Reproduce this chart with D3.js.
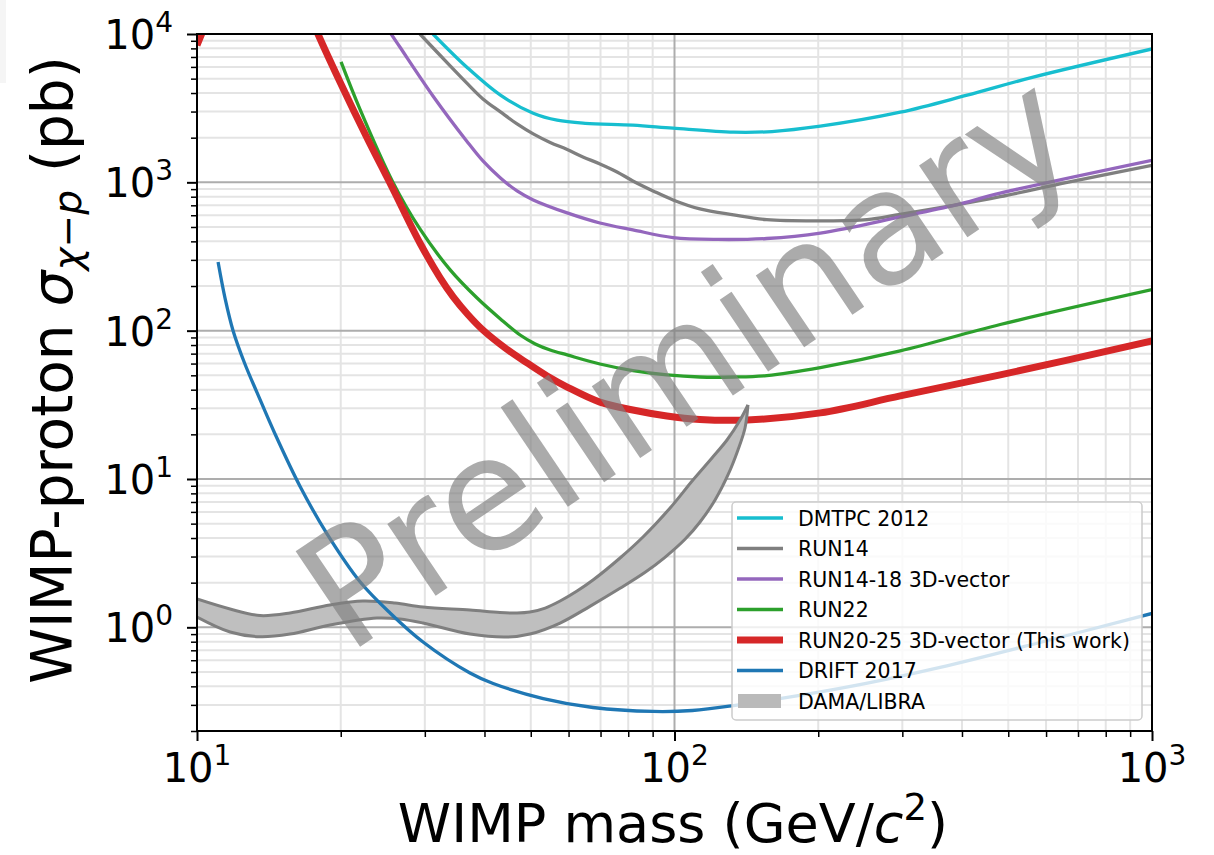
<!DOCTYPE html>
<html>
<head>
<meta charset="utf-8">
<script src="https://cdn.jsdelivr.net/npm/d3@7/dist/d3.min.js"></script>
<style>
  body { margin: 0; background: #fff; }
  text { font-family: "DejaVu Sans", sans-serif; }
</style>
</head>
<body>
<svg id="chart"></svg>
<script>
// values: [WIMP mass (GeV/c^2), cross section (pb)]
var dmtpc2012 = [[31.2, 10000], [36.7, 5990], [43.2, 3870], [50.6, 2925], [56.8, 2625], [65, 2500],
  [81.8, 2427], [99.3, 2316], [133, 2178], [160, 2200], [202, 2390], [297, 2970], [410, 3870],
  [564, 5120], [1000, 7925]];
var run14 = [[29.3, 10000], [33.9, 6095], [36.7, 4680], [39.7, 3651], [43.2, 2983], [46.8, 2476],
  [50.6, 2121], [54.9, 1858], [59.6, 1664], [64.3, 1484], [69.8, 1331], [75.8, 1175], [81.8, 1022],
  [90.2, 875], [99.3, 761], [113, 662], [133, 603], [156, 560], [202, 550], [253, 560],
  [297, 609], [389, 704], [481, 800], [664, 1000], [1000, 1303]];
var run14_18 = [[25.5, 10000], [26.6, 8170], [31.2, 3824], [36.7, 1901], [39.7, 1394], [43.2, 1071],
  [46.8, 875], [50.6, 761], [59.6, 622], [69.8, 532], [81.8, 478], [99.3, 424], [123, 412],
  [156, 418], [202, 455], [297, 584], [389, 704], [481, 845], [1000, 1409]];
var run22 = [[20.03, 6484], [21.95, 3101], [25.7, 1006], [29.3, 485], [33.9, 257], [38.6, 166],
  [43.2, 120], [47.5, 93.5], [51.1, 81.4], [54.9, 74.1], [59.6, 68.6], [69.8, 59.6], [81.8, 53.8],
  [96.5, 50.3], [113, 48.7], [133, 48.7], [156, 49.8], [202, 56.4], [297, 73], [481, 110],
  [1000, 189]];
var run20_25 = [[10, 8400], [10.3, 10600], [14, null], [17.6, 11500], [17.92, 10000], [19.93, 4750],
  [22.6, 2055], [25.6, 931], [29.3, 390], [32.3, 227], [34.4, 169], [36.95, 128], [39.7, 101],
  [44.2, 76.4], [49.1, 60.6], [54.1, 49.5], [59.6, 41.7], [69.8, 33], [81.8, 29.2], [96.4, 26.6],
  [113, 25.2], [142, 25], [202, 27.9], [297, 36.3], [481, 50.3], [1000, 85.2]];
var drift2017 = [[11.07, 290], [11.45, 165], [11.9, 100], [12.6, 59.6], [13.36, 38.2], [14.57, 20.1],
  [16.44, 8.9], [18.72, 4.27], [21.95, 2.03], [25.37, 1.25], [29.74, 0.796], [37.3, 0.492],
  [41.7, 0.418], [53.1, 0.331], [67.5, 0.288], [90.2, 0.271], [109, 0.275], [133, 0.297],
  [222, 0.387], [360, 0.537], [582, 0.79], [1000, 1.24]];
// DAMA/LIBRA allowed region, upper and lower edge
var damaUpper = [[10, 1.551], [11.73, 1.328], [13.55, 1.201], [15.66, 1.249], [18.99, 1.414],
  [22.26, 1.504], [25.98, 1.458], [29.74, 1.37], [37.3, 1.308], [43.1, 1.258], [46.8, 1.249],
  [49.8, 1.268], [53.6, 1.349], [57.6, 1.504], [62.5, 1.757], [67.5, 2.084], [76.9, 2.933],
  [85.9, 4.063], [97.9, 6.376], [109.3, 9.847], [119.8, 13.86], [128.8, 18.32], [137.2, 25],
  [142.5, 31.55]];
var damaLower = [[10, 1.173], [11.73, 0.93], [13.55, 0.864], [15.66, 0.901], [18.99, 1.036],
  [23.8, 1.155], [26.6, 1.137], [29.74, 1.069], [37.3, 0.901], [44.6, 0.86], [49.8, 0.901],
  [57.6, 1.069], [66.5, 1.385], [76.9, 1.832], [86.8, 2.349], [95.5, 2.965], [105.2, 3.921],
  [113.1, 5.129], [121.6, 7.218], [129.4, 10.64], [135.8, 15.69], [140.5, 22.08], [142.5, 31.55]];

var xTickExp = [1, 2, 3];
var yTickExp = [0, 1, 2, 3, 4];
var legendLabels = ['DMTPC 2012', 'RUN14', 'RUN14-18 3D-vector', 'RUN22',
  'RUN20-25 3D-vector (This work)', 'DRIFT 2017', 'DAMA/LIBRA'];

var width = 1214, height = 855;
var plot = {left: 197, top: 34, right: 1152, bottom: 731};

var svg = d3.select('#chart').attr('width', width).attr('height', height);
svg.append('rect').attr('width', width).attr('height', height).attr('fill', '#fff');
svg.append('rect').attr('width', 6).attr('height', 83).attr('fill', '#f5f5f5');

var x = d3.scaleLog().domain([10, 1000]).range([plot.left, plot.right]);
var y = d3.scaleLog().domain([0.2, 10000]).range([plot.bottom, plot.top]);

function isPow10(v) {
  return Math.abs(Math.log10(v) - Math.round(Math.log10(v))) < 1e-9;
}
var xMajor = xTickExp.map(function(e) { return Math.pow(10, e); });
var yMajor = yTickExp.map(function(e) { return Math.pow(10, e); });
var xMinor = x.ticks().filter(function(v) { return !isPow10(v); });
var yMinor = y.ticks().filter(function(v) { return !isPow10(v); });

// grid
var grid = svg.append('g');
function vLines(vals, color) {
  grid.selectAll(null).data(vals).enter().append('line')
    .attr('x1', function(d) { return x(d); }).attr('x2', function(d) { return x(d); })
    .attr('y1', plot.top).attr('y2', plot.bottom)
    .attr('stroke', color).attr('stroke-width', 2);
}
function hLines(vals, color) {
  grid.selectAll(null).data(vals).enter().append('line')
    .attr('y1', function(d) { return y(d); }).attr('y2', function(d) { return y(d); })
    .attr('x1', plot.left).attr('x2', plot.right)
    .attr('stroke', color).attr('stroke-width', 2);
}
vLines(xMinor, '#e4e4e4');
hLines(yMinor, '#e4e4e4');
vLines(xMajor, '#adadad');
hLines(yMajor, '#adadad');

svg.append('clipPath').attr('id', 'clip').append('rect')
  .attr('x', plot.left).attr('y', plot.top)
  .attr('width', plot.right - plot.left).attr('height', plot.bottom - plot.top);

var data = svg.append('g').attr('clip-path', 'url(#clip)');

var line = d3.line()
  .defined(function(d) { return d[1] != null; })
  .x(function(d) { return x(d[0]); })
  .y(function(d) { return y(d[1]); })
  .curve(d3.curveCatmullRom.alpha(0.5));

function drawLine(series, color, w) {
  data.append('path').datum(series)
    .attr('d', line)
    .attr('fill', 'none')
    .attr('stroke', color)
    .attr('stroke-width', w)
    .attr('stroke-linejoin', 'round');
}

drawLine(dmtpc2012, '#17becf', 3.3);
drawLine(run14, '#7f7f7f', 3.3);
drawLine(run14_18, '#9467bd', 3.3);
drawLine(run22, '#2ca02c', 3.3);
drawLine(run20_25, '#d62728', 7);

// DAMA/LIBRA band: upper edge out, lower edge back
var bandPath = line(damaUpper) + 'L' + line(damaLower.slice().reverse()).slice(1) + 'Z';
data.append('path').attr('d', bandPath).attr('fill', '#bfbfbf');
drawLine(damaUpper, '#7f7f7f', 3);
drawLine(damaLower, '#7f7f7f', 3);

drawLine(drift2017, '#1f77b4', 3.3);

// axes
function ticks(axis, g, size, w) {
  g.call(axis.tickSize(size).tickFormat(''));
  g.select('.domain').remove();
  g.selectAll('.tick line').attr('stroke', '#000').attr('stroke-width', w);
}
ticks(d3.axisBottom(x).tickValues(xMinor), svg.append('g').attr('transform', 'translate(0,' + plot.bottom + ')'), 6, 1.5);
ticks(d3.axisBottom(x).tickValues(xMajor), svg.append('g').attr('transform', 'translate(0,' + plot.bottom + ')'), 10, 2);
ticks(d3.axisLeft(y).tickValues(yMinor), svg.append('g').attr('transform', 'translate(' + plot.left + ',0)'), 6, 1.5);
ticks(d3.axisLeft(y).tickValues(yMajor), svg.append('g').attr('transform', 'translate(' + plot.left + ',0)'), 10, 2);

svg.append('rect')
  .attr('x', plot.left).attr('y', plot.top)
  .attr('width', plot.right - plot.left).attr('height', plot.bottom - plot.top)
  .attr('fill', 'none').attr('stroke', '#000').attr('stroke-width', 2);

function powLabel(t, e) {
  t.append('tspan').text('10');
  t.append('tspan').attr('font-size', 28).attr('dy', -17).text(e);
}
xTickExp.forEach(function(e) {
  var t = svg.append('text')
    .attr('x', x(Math.pow(10, e))).attr('y', 782)
    .attr('text-anchor', 'middle').attr('font-size', 40).attr('fill', '#000');
  powLabel(t, e);
});
yTickExp.forEach(function(e) {
  var t = svg.append('text')
    .attr('x', 173).attr('y', y(Math.pow(10, e)) + 15)
    .attr('text-anchor', 'end').attr('font-size', 40).attr('fill', '#000');
  powLabel(t, e);
});

// axis titles
var xt = svg.append('text')
  .attr('x', 673).attr('y', 842)
  .attr('text-anchor', 'middle').attr('font-size', 54);
xt.append('tspan').text('WIMP mass (GeV/');
xt.append('tspan').attr('font-style', 'italic').text('c');
xt.append('tspan').attr('font-size', 37).attr('dy', -22).text('2');
xt.append('tspan').attr('dy', 22).text(')');

var yt = svg.append('text')
  .attr('transform', 'translate(72,370) rotate(-90)')
  .attr('text-anchor', 'middle').attr('font-size', 56.5);
yt.append('tspan').text('WIMP-proton ');
yt.append('tspan').attr('font-style', 'italic').text('σ');
yt.append('tspan').attr('font-size', 39).attr('dy', 9).attr('font-style', 'italic').text('χ');
yt.append('tspan').attr('font-size', 39).text('−');
yt.append('tspan').attr('font-size', 39).attr('font-style', 'italic').text('p');
yt.append('tspan').attr('dy', -9).text('  (pb)');

// watermark
svg.append('text')
  .attr('transform', 'translate(717,406) rotate(-34)')
  .attr('text-anchor', 'middle')
  .attr('font-size', 158)
  .attr('fill', '#808080')
  .attr('opacity', 0.66)
  .text('Preliminary');

// legend
var legend = svg.append('g');
legend.append('rect')
  .attr('x', 732).attr('y', 502).attr('width', 410).attr('height', 218).attr('rx', 4)
  .attr('fill', '#fff').attr('fill-opacity', 0.8)
  .attr('stroke', '#cccccc').attr('stroke-width', 1.5);

var legendColors = ['#17becf', '#7f7f7f', '#9467bd', '#2ca02c', '#d62728', '#1f77b4', '#bababa'];
var rows = legend.selectAll('g.row').data(legendLabels).enter().append('g')
  .attr('class', 'row')
  .attr('transform', function(d, i) { return 'translate(0,' + (518 + i * 30.5) + ')'; });

rows.each(function(d, i) {
  var g = d3.select(this);
  if (i === 6) {
    g.append('rect').attr('x', 738).attr('y', -7).attr('width', 43).attr('height', 14)
      .attr('fill', legendColors[i]);
  } else {
    g.append('line').attr('x1', 737).attr('x2', 783).attr('y1', 0).attr('y2', 0)
      .attr('stroke', legendColors[i]).attr('stroke-width', i === 4 ? 7 : 3.3);
  }
  g.append('text').attr('x', 798).attr('y', 7.5).attr('font-size', 20.5).attr('fill', '#000').text(d);
});
</script>
</body>
</html>
